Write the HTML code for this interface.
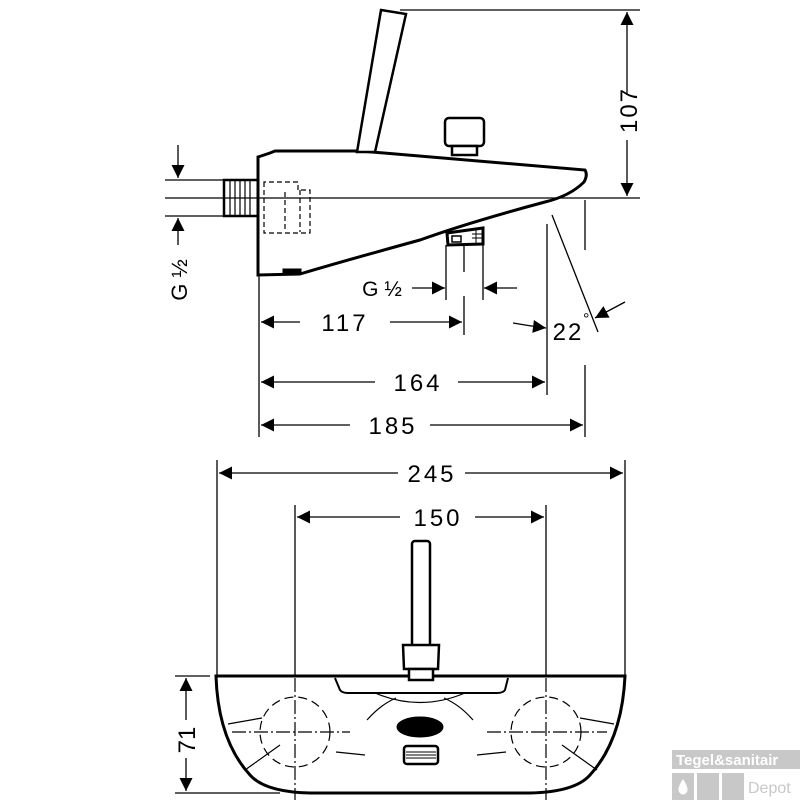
<!DOCTYPE html>
<html><head><meta charset="utf-8"><style>
html,body{margin:0;padding:0;background:#fff}
svg{display:block}
text{font-family:"Liberation Sans",sans-serif;fill:#000}
</style></head><body>
<svg width="800" height="800" viewBox="0 0 800 800" xmlns="http://www.w3.org/2000/svg">
<defs>
<marker id="a" viewBox="0 0 10 10" refX="10" refY="5" markerWidth="17" markerHeight="13" markerUnits="userSpaceOnUse" orient="auto"><path d="M0,0 L10,5 L0,10 z" fill="#000"/></marker>
</defs>
<g stroke="#000" fill="none">
<path d="M258,157 L270,153 L275,151 L360,151 L585,170 Q588,175 584,182 Q570,196 545,202 Q470,222 420,240 Q340,262 300,274 L258,275 Z" stroke-width="3" fill="#fff"/>
<path d="M381,10 L406,14 L375,152 L357,152 Z" stroke-width="2.5" fill="#fff"/>
<rect x="445" y="118" width="39" height="28" rx="4" stroke-width="2.5" fill="#fff"/>
<rect x="452" y="146" width="25" height="9" stroke-width="2.5" fill="#fff"/>
<rect x="224" y="180" width="34" height="36" stroke-width="2.5"/>
<path d="M230,181 V215 M235,181 V215 M240,181 V215 M245,181 V215 M250,181 V215" stroke-width="1.2"/>
<path d="M264,182 V233 H310 V190 H298 V182 Z M285,192 V232 M300,190 V232" stroke-width="1.2" stroke-dasharray="5,3"/>
<path d="M447,233 L483,228 L483,244 L448,245 Z" stroke-width="3" fill="#fff"/>
<rect x="452" y="236" width="9" height="6" stroke-width="1.5"/>
<path d="M476,230 V243 M472,234 H482 M472,238 H482" stroke-width="1"/>
<rect x="283" y="269" width="18" height="5" fill="#000" stroke-width="1"/>
<g stroke-width="1.3">
<path d="M400,10 H640"/>
<path d="M165,198 H640"/>
<path d="M165,180 H225 M165,216 H225"/>
<path d="M259,276 V437"/>
<path d="M446,245 V300 M483,245 V300 M464,245 V272 M464,296 V335"/>
<path d="M547,224 V395"/>
<path d="M585,200 V250 M585,365 V437"/>
<path d="M552,215 L598,332"/>
<path d="M217,460 V677 M625,460 V677"/>
<path d="M295,505 V677 M546,505 V677"/>
<path d="M175,676 H210 M175,793 H280"/>
</g>
<g stroke-width="1.3">
<path d="M627,95 V12" marker-end="url(#a)"/>
<path d="M627,140 V196" marker-end="url(#a)"/>
<path d="M178,145 V178" marker-end="url(#a)"/>
<path d="M178,245 V218" marker-end="url(#a)"/>
<path d="M412,288 H445" marker-end="url(#a)"/>
<path d="M517,288 H484" marker-end="url(#a)"/>
<path d="M300,322 H261" marker-end="url(#a)"/>
<path d="M390,322 H462" marker-end="url(#a)"/>
<path d="M513,323 Q530,326 546,328" marker-end="url(#a)"/>
<path d="M625,302 L595,318" marker-end="url(#a)"/>
<path d="M375,382 H261" marker-end="url(#a)"/>
<path d="M458,382 H545" marker-end="url(#a)"/>
<path d="M350,425 H261" marker-end="url(#a)"/>
<path d="M430,425 H583" marker-end="url(#a)"/>
<path d="M398,473 H219" marker-end="url(#a)"/>
<path d="M465,473 H623" marker-end="url(#a)"/>
<path d="M400,517 H297" marker-end="url(#a)"/>
<path d="M475,517 H544" marker-end="url(#a)"/>
<path d="M186,720 V678" marker-end="url(#a)"/>
<path d="M186,758 V791" marker-end="url(#a)"/>
</g>
<path d="M216,676 H625 Q622,740 590,775 Q575,792 530,793 H310 Q265,792 250,775 Q218,740 216,676 Z" stroke-width="3" fill="#fff"/>
<path d="M295,678 V800 M546,678 V800" stroke-width="1.2" stroke-dasharray="14,3,2,3"/>
<path d="M232,732 H350 M487,732 H607" stroke-width="1.2" stroke-dasharray="14,3,2,3"/>
<circle cx="295" cy="732" r="35" stroke-width="1.2" stroke-dasharray="9,5"/>
<circle cx="546" cy="732" r="35" stroke-width="1.2" stroke-dasharray="9,5"/>
<path d="M335,678 L340,690 Q342,693 348,693 H497 Q503,693 505,690 L508,678" stroke-width="2"/>
<path d="M375,693 Q420,712 465,693" stroke-width="1.2"/>
<path d="M367,720 Q380,705 396,698 M473,720 Q460,705 444,698" stroke-width="1.2"/>
<path d="M228,724 L262,718 M245,770 L280,745 M614,724 L580,718 M597,770 L562,745" stroke-width="1.2"/>
<path d="M336,752 L365,755 M506,752 L477,755" stroke-width="1.2"/>
<ellipse cx="420" cy="727" rx="23" ry="10" fill="#000" stroke-width="1"/>
<rect x="404" y="746" width="34" height="18" rx="3" stroke-width="2.5"/>
<path d="M406,752 H436 M406,755 H436 M406,758 H436" stroke-width="1"/>
<rect x="412" y="541" width="18" height="105" rx="3" stroke-width="2.5" fill="#fff"/>
<path d="M403,645 H439 L438,669 H404 Z" stroke-width="2.5" fill="#fff"/>
<rect x="409" y="669" width="24" height="11" stroke-width="2.5" fill="#fff"/>
</g>
<text x="0" y="0" font-size="24" text-anchor="middle" transform="translate(637,110) rotate(-90)" letter-spacing="2">107</text>
<text x="0" y="0" font-size="22" text-anchor="middle" transform="translate(187,280) rotate(-90)">G ½</text>
<text x="382" y="296" font-size="21" text-anchor="middle">G ½</text>
<text x="345" y="331" font-size="24" text-anchor="middle" letter-spacing="3">117</text>
<text x="568" y="340" font-size="24" text-anchor="middle" letter-spacing="2">22</text>
<text x="583" y="324" font-size="16">°</text>
<text x="418" y="391" font-size="24" text-anchor="middle" letter-spacing="3">164</text>
<text x="393" y="434" font-size="24" text-anchor="middle" letter-spacing="3">185</text>
<text x="432" y="482" font-size="24" text-anchor="middle" letter-spacing="3">245</text>
<text x="438" y="526" font-size="24" text-anchor="middle" letter-spacing="3">150</text>
<text x="0" y="0" font-size="24" text-anchor="middle" transform="translate(195,740) rotate(-90)">71</text>
<rect x="672" y="750" width="128" height="19" fill="#c8c8c8"/>
<text x="676" y="765" font-size="15" font-weight="bold" style="fill:#fff">Tegel&amp;sanitair</text>
<rect x="672" y="773" width="22" height="27" fill="#c8c8c8"/>
<rect x="697" y="773" width="22" height="27" fill="#c8c8c8"/>
<rect x="722" y="773" width="22" height="27" fill="#c8c8c8"/>
<path d="M683,779 Q677,788 679,792 Q683,797 687,792 Q689,788 683,779 Z" fill="#fff"/>
<text x="748" y="793" font-size="16" style="fill:#c8c8c8">Depot</text>
</svg>
</body></html>
